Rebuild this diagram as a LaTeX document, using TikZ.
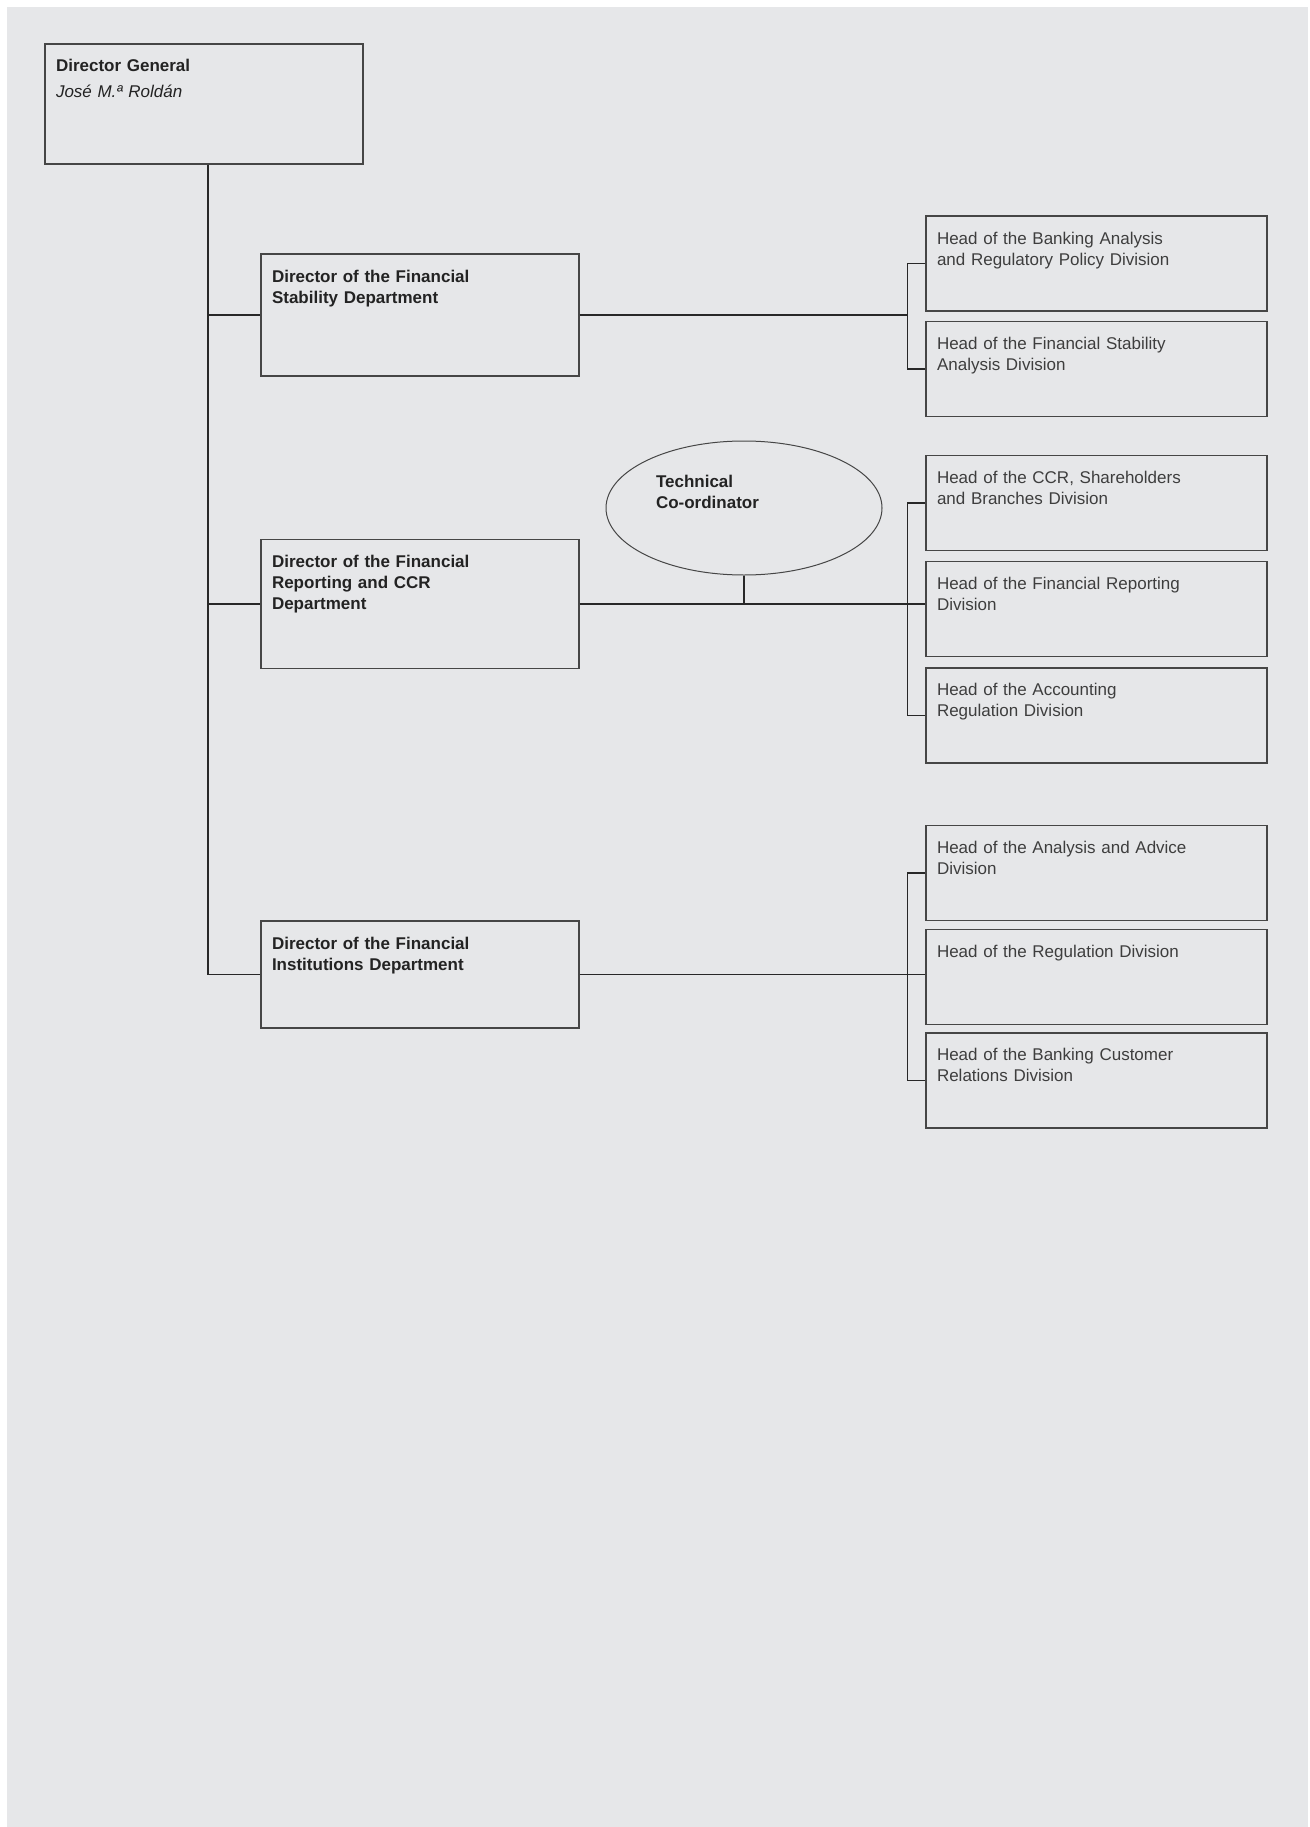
\documentclass[tikz,border=0pt]{standalone}
\usepackage{fontspec}
\setmainfont{Liberation Sans}
\usetikzlibrary{positioning,shapes.geometric}
\definecolor{bggray}{RGB}{230,231,233}
\definecolor{linegray}{RGB}{40,40,40}
\definecolor{framegray}{RGB}{70,70,70}
\definecolor{dirtext}{RGB}{35,35,35}
\definecolor{divtext}{RGB}{62,62,62}
\tikzset{
	boxtext/.style={font=\fontsize{17pt}{21pt}\selectfont, align=left, inner xsep=11pt, inner ysep=0pt, text height=28pt},
	dirbox/.style={draw=framegray, line width=1.2pt, boxtext, font=\fontsize{17pt}{21pt}\selectfont\bfseries, text=dirtext, text width=296pt},
	divbox/.style={draw=framegray, line width=1.2pt, boxtext, text=divtext, text width=319pt, text depth=67pt},
	conn/.style={draw=linegray, line width=1.8pt}
}

\begin{document}
\begin{tikzpicture}[x=1pt, y=-1pt]
				\useasboundingbox (0,0) rectangle (1309,1827);
				\fill[bggray] (7,7) rectangle (1308,1827);
				\node[dirbox, text depth=92pt] (dg) at (204,104) {Director General\\[5pt]{\mdseries\itshape José M.ª Roldán}};
				\node[dirbox, text depth=94pt] (fs) at (420,315) {Director of the Financial\\Stability Department};
				\node[dirbox, text depth=101pt] (fr) at (420,604) {Director of the Financial\\Reporting and CCR\\Department};
				\node[dirbox, text depth=79pt] (fi) at (420,974.5) {Director of the Financial\\Institutions Department};
				\node[draw=framegray, line width=1pt, ellipse, minimum width=276pt, minimum height=134pt, inner sep=0pt, text width=176pt, align=left, text height=19pt, text depth=61pt, text=dirtext, font=\fontsize{17pt}{21pt}\selectfont\bfseries] (tc) at (744,508) {Technical\\Co-ordinator};
				\node[divbox] (d1) at (1096.5,263.5) {Head of the Banking Analysis\\and Regulatory Policy Division};
				\node[divbox, below=9pt of d1] (d2) {Head of the Financial Stability\\Analysis Division};
				\node[divbox] (d3) at (1096.5,503) {Head of the CCR, Shareholders\\and Branches Division};
				\node[divbox, below=10pt of d3] (d4) {Head of the Financial Reporting\\Division};
				\node[divbox, below=10pt of d4] (d5) {Head of the Accounting\\Regulation Division};
				\node[divbox] (d6) at (1096.5,873) {Head of the Analysis and Advice\\Division};
				\node[divbox, below=7.5pt of d6] (d7) {Head of the Regulation Division};
				\node[divbox, below=7.5pt of d7] (d8) {Head of the Banking Customer\\Relations Division};
				\coordinate (T) at ([xshift=4pt]dg.south);
				\coordinate (B1) at ([xshift=-18pt]d1.west);
				\coordinate (B2) at ([xshift=-18pt]d3.west);
				\coordinate (B3) at ([xshift=-18pt]d6.west);
				\draw[conn] (T) |- (fi.west);
				\draw[conn] (T |- fs.west) -- (fs.west);
				\draw[conn] (T |- fr.west) -- (fr.west);
				\draw[conn] (fs.east) -- (fs.east -| B1);
				\draw[conn] (d1.west) -- (B1) |- (d2.west);
				\draw[conn] (fr.east) -- (fr.east -| d4.west);
				\draw[conn] (d3.west) -- (B2) |- (d5.west);
				\draw[conn] (tc.south) -- (tc.south |- fr.east);
				\draw[conn] (fi.east) -- (fi.east -| d7.west);
				\draw[conn] (d6.west) -- (B3) |- (d8.west);
			\end{tikzpicture}
\end{document}
